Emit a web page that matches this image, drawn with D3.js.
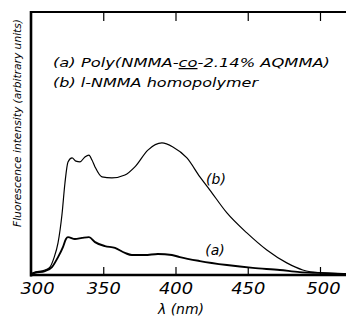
<!DOCTYPE html>
<html><head><meta charset="utf-8">
<script src="https://cdn.jsdelivr.net/npm/d3@7"></script>
<style>body{margin:0;background:#fff}svg{display:block}</style>
</head><body>
<svg id="c" width="346" height="320"></svg>
<script>
const xTicks = [300, 350, 400, 450, 500];
const seriesB = [[300,0.3],[301.4,0.8],[309.7,1.9],[313.1,3.0],[315.9,6.5],[318.7,12.2],[321.4,22.8],[323.5,35.0],[325.6,43.0],[328.4,44.5],[331.1,43.3],[333.9,43.0],[337.3,44.9],[340.1,45.6],[342.2,43.7],[344.3,41.1],[349.1,37.3],[356.0,36.9],[365.0,38.0],[371.9,41.1],[380.9,47.5],[390.6,50.2],[398.2,48.7],[407.9,44.5],[416.9,37.3],[423.8,32.3],[435.6,23.6],[449.4,16.0],[463.2,9.5],[477.0,4.6],[488.1,1.9],[499.9,0.8],[518,0.4]];
const seriesA = [[300,0.3],[302.8,0.8],[309.7,1.5],[314.5,3.0],[318.7,6.8],[322.1,10.6],[324.2,13.7],[325.6,14.4],[330.4,13.7],[335.3,14.1],[340.1,14.4],[344.3,12.5],[351.2,11.0],[358.1,10.3],[365.0,8.4],[369.8,7.6],[378.8,7.6],[387.8,8.0],[397.5,7.6],[403.0,6.8],[416.9,5.3],[435.6,3.8],[453.5,2.7],[472.2,1.9],[486.0,1.1],[499.9,0.8],[518,0.4]];
const legendLines = ["(a) Poly(NMMA-", "co", "-2.14% AQMMA)"];
const legendB = "(b) l-NMMA homopolymer";
const curveLabels = ["(b)", "(a)"];

const svg = d3.select("#c");
const x = d3.scaleLinear().domain([300, 518]).range([31, 346]);
const y = d3.scaleLinear().domain([0, 100]).range([275, 12]);
const font = "'DejaVu Sans', sans-serif";

// top ticks
svg.append("g").attr("transform", "translate(0,12)")
  .call(d3.axisBottom(x).tickValues(xTicks.slice(1)).tickSize(9).tickFormat(""))
  .call(g => g.select(".domain").remove())
  .call(g => g.selectAll("line").attr("stroke", "#000").attr("stroke-width", 1.2));

// bottom axis
const gx = svg.append("g").attr("transform", "translate(0,275)")
  .call(d3.axisBottom(x).tickValues(xTicks).tickSize(0).tickPadding(5));
gx.select(".domain").remove();
gx.selectAll("text").attr("font-family", font).attr("font-style", "italic")
  .attr("font-size", 16).attr("fill", "#000")
  .attr("dy", "0.9em")
  .attr("dx", d => d === 300 ? 6 : (d === 500 ? 3 : 0))
  .attr("textLength", 34).attr("lengthAdjust", "spacingAndGlyphs");
// inner ticks on bottom
svg.append("g").attr("transform", "translate(0,275)")
  .call(d3.axisTop(x).tickValues(xTicks.slice(1)).tickSize(8).tickFormat(""))
  .call(g => g.select(".domain").remove())
  .call(g => g.selectAll("line").attr("stroke", "#000").attr("stroke-width", 1.2));

// frame lines
svg.append("line").attr("x1", x(300)).attr("x2", 346).attr("y1", y(100)).attr("y2", y(100)).attr("stroke", "#000").attr("stroke-width", 2);
svg.append("line").attr("x1", x(300)).attr("x2", x(300)).attr("y1", y(100) - 1).attr("y2", y(0) + 1.5).attr("stroke", "#000").attr("stroke-width", 2.6);
svg.append("line").attr("x1", x(300) - 1).attr("x2", 346).attr("y1", y(0)).attr("y2", y(0)).attr("stroke", "#000").attr("stroke-width", 2.6);

const line = d3.line().x(d => x(d[0])).y(d => y(d[1])).curve(d3.curveMonotoneX);
svg.append("path").datum(seriesB).attr("d", line).attr("fill", "none").attr("stroke", "#000").attr("stroke-width", 1.2);
svg.append("path").datum(seriesA).attr("d", line).attr("fill", "none").attr("stroke", "#000").attr("stroke-width", 1.9);

// curve labels
svg.append("text").attr("x", 216).attr("y", 184).attr("text-anchor", "middle")
  .attr("font-family", font).attr("font-style", "italic").attr("font-size", 14).text(curveLabels[0]);
svg.append("text").attr("x", 215).attr("y", 255).attr("text-anchor", "middle")
  .attr("font-family", font).attr("font-style", "italic").attr("font-size", 14).text(curveLabels[1]);

// legend
const t1 = svg.append("text").attr("x", 53).attr("y", 67).attr("font-family", font).attr("font-style", "italic")
  .attr("font-size", 12.5).attr("textLength", 277).attr("lengthAdjust", "spacingAndGlyphs");
t1.append("tspan").text(legendLines[0]);
t1.append("tspan").attr("text-decoration", "underline").text(legendLines[1]);
t1.append("tspan").text(legendLines[2]);
svg.append("text").attr("x", 53).attr("y", 87).attr("font-family", font).attr("font-style", "italic")
  .attr("font-size", 12.5).attr("textLength", 205).attr("lengthAdjust", "spacingAndGlyphs").text(legendB);

// axis titles
svg.append("text").attr("transform", "translate(21,123) rotate(-90)").attr("text-anchor", "middle")
  .attr("font-family", font).attr("font-style", "italic").attr("font-size", 10)
  .attr("textLength", 208).attr("lengthAdjust", "spacingAndGlyphs").text("Fluorescence intensity (arbitrary units)");
svg.append("text").attr("x", 181).attr("y", 314).attr("text-anchor", "middle")
  .attr("font-family", font).attr("font-style", "italic").attr("font-size", 14)
  .text("λ (nm)");
</script>
</body></html>
